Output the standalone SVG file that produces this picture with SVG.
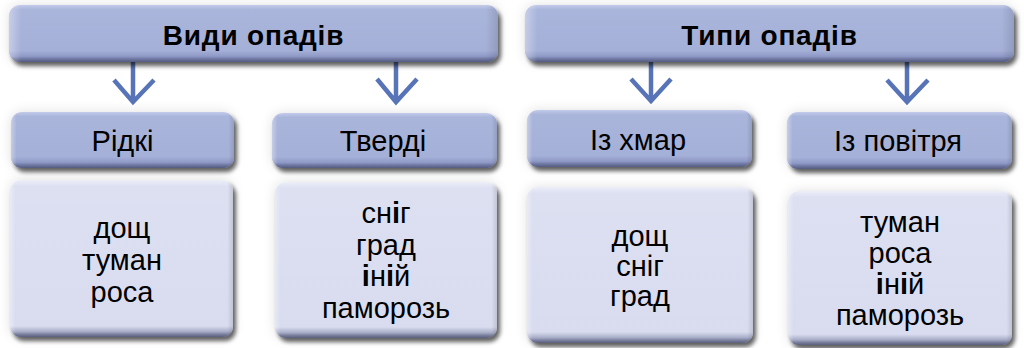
<svg xmlns="http://www.w3.org/2000/svg" width="1024" height="348" viewBox="0 0 1024 348">
<defs>
<style>
text{font-family:"Liberation Sans",Arial,sans-serif;fill:#000;text-anchor:middle}
.title{font-size:28px;font-weight:bold;letter-spacing:0.8px}
.hd{font-size:29px}
.li{font-size:29px}
.b{font-weight:bold}
.top{fill:url(#gTop);filter:url(#sh)}
.low{fill:url(#gLow);filter:url(#sh)}
.hl{fill:url(#gHl)}
.arr{stroke:#5874b8;stroke-width:4.5;fill:none;stroke-linecap:butt;stroke-linejoin:miter}
</style>
<linearGradient id="gTop" x1="0" y1="0" x2="0" y2="1">
<stop offset="0" stop-color="#c3cbea"/>
<stop offset="0.08" stop-color="#aab5dc"/>
<stop offset="0.8" stop-color="#a5b0d8"/>
<stop offset="0.9" stop-color="#8f99c6"/>
<stop offset="0.95" stop-color="#6e769f"/>
<stop offset="1" stop-color="#555b80"/>
</linearGradient>
<linearGradient id="gLow" x1="0" y1="0" x2="0" y2="1">
<stop offset="0" stop-color="#eceef8"/>
<stop offset="0.04" stop-color="#dde0f1"/>
<stop offset="0.93" stop-color="#d9dcef"/>
<stop offset="0.965" stop-color="#a9aec8"/>
<stop offset="0.985" stop-color="#767b9a"/>
<stop offset="1" stop-color="#5a5f7e"/>
</linearGradient>
<linearGradient id="gHl" x1="0" y1="0" x2="1" y2="0">
<stop offset="0" stop-color="#ffffff" stop-opacity="0.35"/>
<stop offset="0.025" stop-color="#ffffff" stop-opacity="0"/>
<stop offset="0.975" stop-color="#000000" stop-opacity="0"/>
<stop offset="1" stop-color="#000000" stop-opacity="0.12"/>
</linearGradient>
<filter id="sh" x="-10%" y="-20%" width="125%" height="150%">
<feGaussianBlur in="SourceAlpha" stdDeviation="6" result="b1"/>
<feOffset in="b1" dx="0" dy="0" result="o1"/>
<feFlood flood-color="#000" flood-opacity="0.12"/>
<feComposite in2="o1" operator="in" result="halo"/>
<feGaussianBlur in="SourceAlpha" stdDeviation="2.2" result="b2"/>
<feOffset in="b2" dx="3" dy="4" result="o2"/>
<feFlood flood-color="#000" flood-opacity="0.6"/>
<feComposite in2="o2" operator="in" result="drop"/>
<feMerge><feMergeNode in="halo"/><feMergeNode in="drop"/><feMergeNode in="SourceGraphic"/></feMerge>
</filter>
</defs>
<rect width="1024" height="348" fill="#ffffff"/>

<g id="connectors">
<path class="arr" d="M133 60V102M114 80L133 102L154 80"/>
<path class="arr" d="M396 60V102M377 79L396 102L417 79"/>
<path class="arr" d="M651 60V101M631 79L651 101L671 79"/>
<path class="arr" d="M907 60V102M887 80L907 102L928 80"/>
</g>

<g id="node-vydy">
<rect class="top" x="9" y="5" width="489" height="57" rx="11"/>
<rect class="hl" x="9" y="5" width="489" height="57" rx="11"/>
<text class="title" x="253.5" y="45">Види опадів</text>
</g>
<g id="node-typy">
<rect class="top" x="525" y="5" width="489" height="57" rx="11"/>
<rect class="hl" x="525" y="5" width="489" height="57" rx="11"/>
<text class="title" x="769.5" y="45">Типи опадів</text>
</g>

<g id="node-ridki">
<rect class="top" x="11" y="112" width="223" height="56" rx="11"/>
<rect class="hl" x="11" y="112" width="223" height="56" rx="11"/>
<text class="hd" x="122.5" y="151">Рідкі</text>
</g>
<g id="node-tverdi">
<rect class="top" x="272" y="113" width="225" height="55" rx="11"/>
<rect class="hl" x="272" y="113" width="225" height="55" rx="11"/>
<text class="hd" x="383" y="151">Тверді</text>
</g>
<g id="node-iz-khmar">
<rect class="top" x="527" y="110" width="225" height="57" rx="11"/>
<rect class="hl" x="527" y="110" width="225" height="57" rx="11"/>
<text class="hd" x="638" y="150">Із хмар</text>
</g>
<g id="node-iz-povitria">
<rect class="top" x="787" y="112" width="225" height="57" rx="11"/>
<rect class="hl" x="787" y="112" width="225" height="57" rx="11"/>
<text class="hd" x="898" y="151">Із повітря</text>
</g>

<g id="node-ridki-list">
<rect class="low" x="10" y="180" width="223" height="157" rx="11"/>
<rect class="hl" x="10" y="180" width="223" height="157" rx="11"/>
<text class="li" x="122" y="238">дощ</text>
<text class="li" x="122" y="270">туман</text>
<text class="li" x="122" y="302">роса</text>
</g>
<g id="node-tverdi-list">
<rect class="low" x="275" y="182" width="222" height="156" rx="11"/>
<rect class="hl" x="275" y="182" width="222" height="156" rx="11"/>
<text class="li" x="386" y="223">сн<tspan class="b">і</tspan>г</text>
<text class="li" x="386" y="255">град</text>
<text class="li" x="386" y="286"><tspan class="b">і</tspan>н<tspan class="b">і</tspan>й</text>
<text class="li" x="386" y="318">паморозь</text>
</g>
<g id="node-iz-khmar-list">
<rect class="low" x="527" y="187" width="226" height="156" rx="11"/>
<rect class="hl" x="527" y="187" width="226" height="156" rx="11"/>
<text class="li" x="640" y="246">дощ</text>
<text class="li" x="640" y="276">сніг</text>
<text class="li" x="640" y="306">град</text>
</g>
<g id="node-iz-povitria-list">
<rect class="low" x="788" y="191" width="224" height="154" rx="11"/>
<rect class="hl" x="788" y="191" width="224" height="154" rx="11"/>
<text class="li" x="900" y="232">туман</text>
<text class="li" x="900" y="263">роса</text>
<text class="li" x="900" y="294"><tspan class="b">і</tspan>н<tspan class="b">і</tspan>й</text>
<text class="li" x="900" y="325">паморозь</text>
</g>
</svg>
